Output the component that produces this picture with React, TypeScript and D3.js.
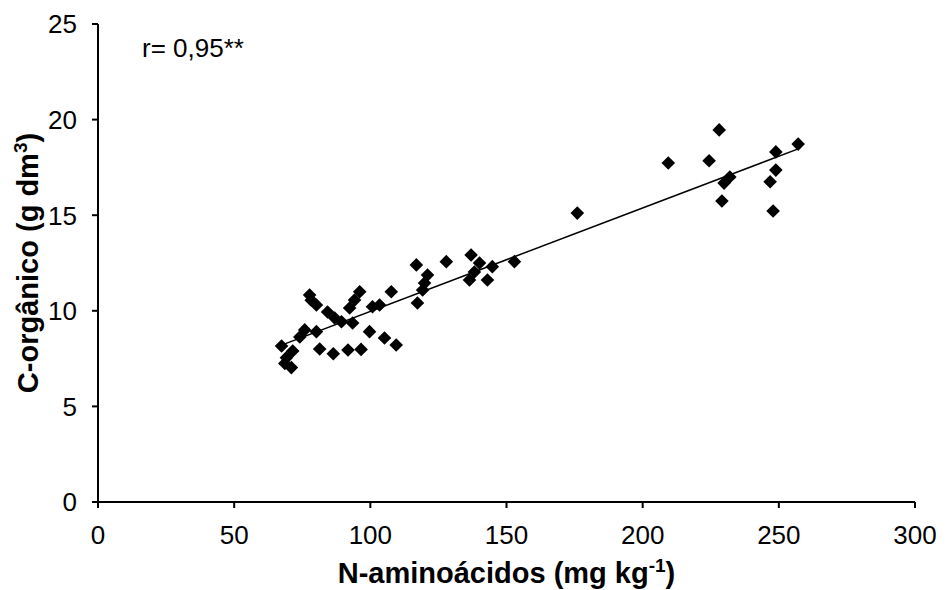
import React from "react";
import * as d3 from "d3";

const nAmino: number[] = [
  67.4, 71.5, 69.2, 68.6, 71.0, 74.1, 75.9, 80.2, 77.7, 80.2,
  84.3, 86.9, 81.4, 86.4, 91.8, 96.6, 89.4, 92.4, 94.2, 96.1,
  93.5, 100.8, 103.4, 107.7, 99.7, 105.2, 109.5, 116.9, 127.9, 121.0,
  119.9, 119.2, 117.3, 137.0, 140.1, 144.8, 138.2, 136.4, 143.0, 152.9,
  176.0, 209.4, 224.4, 228.1, 232.0, 229.9, 229.1, 248.9, 248.9, 246.8,
  247.9, 257.1, 78.3,
];
const cOrganico: number[] = [
  8.16, 7.90, 7.55, 7.25, 7.03, 8.63, 9.00, 8.91, 10.83, 10.30,
  9.94, 9.62, 8.00, 7.75, 7.95, 7.98, 9.43, 10.15, 10.56, 11.00,
  9.36, 10.21, 10.30, 11.00, 8.91, 8.58, 8.21, 12.40, 12.57, 11.87,
  11.45, 11.09, 10.41, 12.92, 12.50, 12.31, 12.03, 11.61, 11.61, 12.57,
  15.11, 17.73, 17.85, 19.46, 17.00, 16.68, 15.74, 18.31, 17.36, 16.75,
  15.22, 18.72, 10.55,
];
const xTicks: number[] = [0, 50, 100, 150, 200, 250, 300];
const yTicks: number[] = [0, 5, 10, 15, 20, 25];
const rLabel = "r= 0,95**";

const W = 947;
const H = 590;
const M = { left: 98, right: 32, top: 24, bottom: 88 };
const FONT = "'Liberation Sans', Arial, sans-serif";

export default function App() {
  const x = d3.scaleLinear().domain([0, 300]).range([M.left, W - M.right]);
  const y = d3.scaleLinear().domain([0, 25]).range([H - M.bottom, M.top]);

  const pts = nAmino.map((v, i) => [v, cOrganico[i]] as [number, number]);
  const mx = d3.mean(pts, (p) => p[0])!;
  const my = d3.mean(pts, (p) => p[1])!;
  const sxy = d3.sum(pts, (p) => (p[0] - mx) * (p[1] - my));
  const sxx = d3.sum(pts, (p) => (p[0] - mx) ** 2);
  const slope = sxy / sxx;
  const icpt = my - slope * mx;
  const [xmin, xmax] = d3.extent(nAmino) as [number, number];
  const line = d3.line<number>().x((v) => x(v)).y((v) => y(icpt + slope * v));

  const diamond = d3.symbol().type(d3.symbolDiamond2).size(118)();
  const tick = 6;

  return (
    <svg width={W} height={H} style={{ position: "absolute", left: 0, top: 0, background: "#fff" }} fontFamily={FONT}>
      <rect width={W} height={H} fill="#fff" />
      <line x1={x(0)} x2={x(300)} y1={y(0)} y2={y(0)} stroke="#000" strokeWidth={2} />
      <line x1={x(0)} x2={x(0)} y1={y(0)} y2={y(25)} stroke="#000" strokeWidth={2} />
      {xTicks.map((t) => (
        <g key={"x" + t}>
          <line x1={x(t)} x2={x(t)} y1={y(0)} y2={y(0) + tick} stroke="#000" strokeWidth={2} />
          <text x={x(t)} y={y(0) + 42} textAnchor="middle" fontSize={26}>{t}</text>
        </g>
      ))}
      {yTicks.map((t) => (
        <g key={"y" + t}>
          <line x1={x(0) - tick} x2={x(0)} y1={y(t)} y2={y(t)} stroke="#000" strokeWidth={2} />
          <text x={x(0) - 21} y={y(t)} dy="0.36em" textAnchor="end" fontSize={26}>{t}</text>
        </g>
      ))}
      <path d={line([xmin, xmax])!} fill="none" stroke="#000" strokeWidth={1.5} />
      {pts.map((p, i) => (
        <path key={i} d={diamond!} transform={`translate(${x(p[0])},${y(p[1])})`} fill="#000" />
      ))}
      <text x={142} y={57} fontSize={26}>{rLabel}</text>
      <text x={(x(0) + x(300)) / 2} y={583} textAnchor="middle" fontSize={29} fontWeight="bold">
        N-aminoácidos (mg kg<tspan dy={-11} fontSize={19}>-1</tspan><tspan dy={11}>)</tspan>
      </text>
      <text transform={`translate(38,${(y(0) + y(25)) / 2}) rotate(-90)`} textAnchor="middle" fontSize={29} fontWeight="bold">
        C-orgânico (g dm<tspan dy={-11} fontSize={19}>3</tspan><tspan dy={11}>)</tspan>
      </text>
    </svg>
  );
}
